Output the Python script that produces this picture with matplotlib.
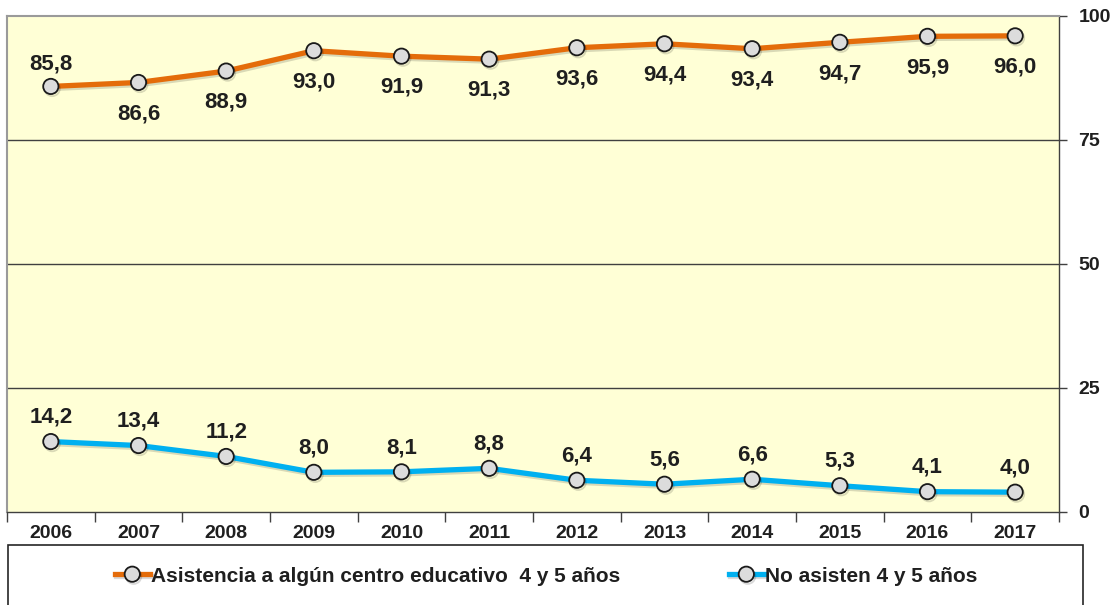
import matplotlib
matplotlib.use("Agg")
import matplotlib.pyplot as plt
import matplotlib.patheffects as pe
from matplotlib.patches import Rectangle

years = ["2006", "2007", "2008", "2009", "2010", "2011", "2012", "2013", "2014", "2015", "2016", "2017"]
asiste = [85.8, 86.6, 88.9, 93.0, 91.9, 91.3, 93.6, 94.4, 93.4, 94.7, 95.9, 96.0]
no_asiste = [14.2, 13.4, 11.2, 8.0, 8.1, 8.8, 6.4, 5.6, 6.6, 5.3, 4.1, 4.0]
# label placement for the orange series: 1 = above, -1 = below
asiste_pos = [1, -1, -1, -1, -1, -1, -1, -1, -1, -1, -1, -1]
yticks = [0, 25, 50, 75, 100]

plt.rcParams["font.family"] = ["Liberation Sans", "DejaVu Sans"]
plt.rcParams["font.weight"] = "bold"
INK = "#1f1f1f"
ORANGE = "#E46C0A"
BLUE = "#00B0F0"

W, H = 1110, 605
fig = plt.figure(figsize=(W / 100, H / 100), dpi=100)
ax = fig.add_axes([7 / W, (H - 512) / H, (1059 - 7) / W, (512 - 16) / H])
ax.set_facecolor("#FFFFD6")

x = list(range(len(years)))
shadow = [pe.SimpleLineShadow(offset=(1, -1.5), alpha=0.15, shadow_color="black"), pe.Normal()]
mk = dict(marker="o", markersize=11, markerfacecolor="#DCDCDC",
          markeredgecolor="#1a1a1a", markeredgewidth=1.3)
ax.plot(x, asiste, color=ORANGE, lw=3.8, label="Asistencia a algún centro educativo  4 y 5 años",
        path_effects=shadow, zorder=3, **mk)
ax.plot(x, no_asiste, color=BLUE, lw=3.8, label="No asisten 4 y 5 años",
        path_effects=shadow, zorder=3, **mk)

lab = dict(fontsize=16, fontweight="bold", color=INK, ha="center", va="center",
           textcoords="offset points")
for xi, v, p in zip(x, asiste, asiste_pos):
    ax.annotate(f"{v:.1f}".replace(".", ","), (xi, v), xytext=(0, 16.5 if p > 0 else -22.5), **lab)
for xi, v in zip(x, no_asiste):
    ax.annotate(f"{v:.1f}".replace(".", ","), (xi, v), xytext=(0, 17.5), **lab)

ax.set_xlim(-0.5, len(years) - 0.5)
ax.set_ylim(0, 100)
ax.set_xticks([i - 0.5 for i in range(len(years) + 1)])
ax.set_xticklabels([])
ax.set_xticks(x, minor=True)
ax.set_xticklabels(years, minor=True, fontsize=14, fontweight="bold", color=INK)
ax.tick_params(axis="x", which="major", length=7, width=1, color="#404040", direction="out")
ax.tick_params(axis="x", which="minor", length=0, pad=9)

ax.yaxis.tick_right()
ax.set_yticks(yticks)
ax.set_yticklabels([str(t) for t in yticks], fontsize=14, fontweight="bold", color=INK)
ax.tick_params(axis="y", length=6, width=1, color="#404040", pad=8)
for t in yticks[1:-1]:
    ax.axhline(t, color="#404040", lw=1, zorder=1)

for side in ["top", "left"]:
    ax.spines[side].set_color("#9a9a9a")
    ax.spines[side].set_linewidth(1.5)
for side in ["bottom", "right"]:
    ax.spines[side].set_color("#404040")
    ax.spines[side].set_linewidth(1)

# legend frame
fig.patches.append(Rectangle((8 / W, -0.02), (1083 - 8) / W, (H - 545) / H + 0.02,
                             transform=fig.transFigure, facecolor="white",
                             edgecolor="#262626", lw=1.2))
fig.legend(loc="center", bbox_to_anchor=(546 / W, (H - 576) / H), ncol=2, frameon=False,
           prop={"weight": "bold", "size": 15}, handlelength=1.7,
           handletextpad=0.05, columnspacing=5.2, labelcolor=INK)

fig.savefig("out.png", dpi=100, facecolor="white")
